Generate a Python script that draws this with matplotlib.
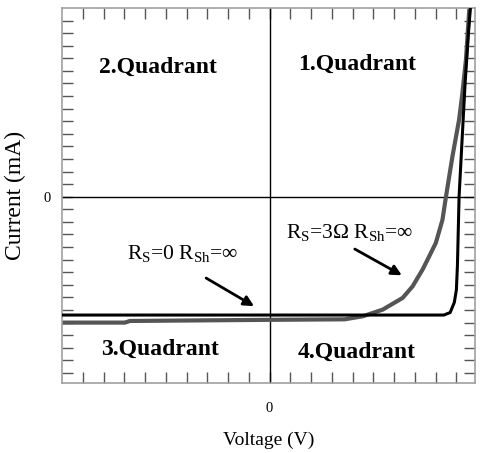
import numpy as np
import matplotlib.pyplot as plt

plt.rcParams['font.family'] = ['Liberation Serif', 'DejaVu Serif']
plt.rcParams['mathtext.fontset'] = 'custom'
plt.rcParams['mathtext.rm'] = 'Liberation Serif'

# curva ideal (Rs=0, Rsh=inf)
v_ideal = [-10, 8.4, 8.7, 8.9, 9.0, 9.05, 9.13, 9.29, 9.42, 9.58, 9.68]
i_ideal = [-9.4, -9.4, -9.2, -8.4, -7.4, -5.5, 0.0, 5.0, 9.0, 13.0, 15.1]

# curva com resistencia serie (Rs=3 ohm)
v_rs = [-10, -6.97, -6.73, 0, 3.61, 4.49, 5.45, 6.41, 6.89, 7.37, 7.69, 8.01,
        8.33, 8.50, 8.81, 9.13, 9.29, 9.46, 9.62, 9.66]
i_rs = [-10.0, -10.0, -9.87, -9.78, -9.74, -9.50, -8.97, -8.04, -7.12, -5.79,
        -4.74, -3.67, -1.83, 0.02, 3.20, 6.11, 8.23, 10.87, 14.84, 15.1]

x_ticks = np.arange(-9, 10)
y_ticks = np.arange(-14, 15)
quadrantes = ['1.Quadrant', '2.Quadrant', '3.Quadrant', '4.Quadrant']

fig = plt.figure(figsize=(4.82, 4.53), dpi=100)
ax = fig.add_axes([0.1286, 0.1545, 0.857, 0.828])

ax.axhline(0, color='black', lw=1)
ax.axvline(0, color='black', lw=1)

ax.plot(v_ideal, i_ideal, color='black', lw=2.2, zorder=3, solid_joinstyle='round')
ax.plot(v_rs, i_rs, color='#555555', lw=3, zorder=2, solid_joinstyle='round')

ax.set_xlim(-10, 9.9)
ax.set_ylim(-14.8, 15)

ax.set_xticks(x_ticks)
ax.set_xticklabels(['0' if t == 0 else '' for t in x_ticks])
ax.set_yticks(y_ticks)
ax.set_yticklabels(['0' if t == 0 else '' for t in y_ticks])
ax.tick_params(direction='in', length=8, width=1, color='#555555',
               top=True, right=True, labelsize=10.5)
ax.tick_params(axis='x', pad=14)
ax.tick_params(axis='y', pad=8)
for s in ax.spines.values():
    s.set_color('#a0a0a0')
    s.set_linewidth(1.2)

# rotulos dos quadrantes
pos_q = [(4.23, 10.48), (-5.38, 10.3), (-5.29, -12.14), (4.18, -12.38)]
for txt, (x, y) in zip(quadrantes, pos_q):
    ax.text(x, y, txt, ha='center', va='center', fontsize=17, fontweight='bold')

ax.text(-4.18, -4.6, r'R$_{\rm S}$=0 R$_{\rm Sh}$=∞', ha='center', va='center', fontsize=15.5)
ax.text(3.85, -2.86, r'R$_{\rm S}$=3Ω R$_{\rm Sh}$=∞', ha='center', va='center', fontsize=15.5)

ax.annotate('', xy=(-0.63, -8.81), xytext=(-3.17, -6.35),
            arrowprops=dict(arrowstyle='-|>', color='black', lw=2, mutation_scale=15))
ax.annotate('', xy=(6.49, -6.35), xytext=(3.99, -4.05),
            arrowprops=dict(arrowstyle='-|>', color='black', lw=2, mutation_scale=15))

ax.set_xlabel('Voltage (V)', fontsize=14, labelpad=12)
ax.set_ylabel('Current (mA)', fontsize=17, labelpad=13)

fig.savefig('out.png', dpi=100)
